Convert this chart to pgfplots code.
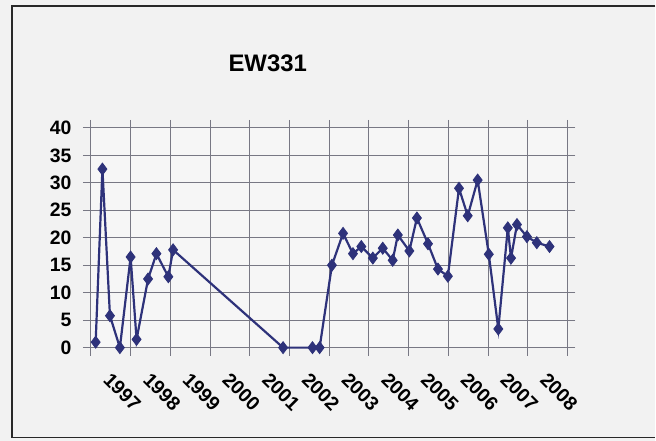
\documentclass[border=0pt]{standalone}
\usepackage{fontspec}
\setmainfont{Liberation Sans}
\usepackage{pgfplots}
\pgfplotsset{compat=1.18}
\definecolor{series}{RGB}{46,50,122}
\definecolor{gridc}{RGB}{120,120,132}
\definecolor{pagebg}{RGB}{242,242,242}
\definecolor{plotbg}{RGB}{246,246,246}
\definecolor{framec}{RGB}{40,40,40}
\begin{document}
\begin{tikzpicture}
% page background and chart frame (right edge cropped in the reference)
\fill[pagebg] (-91bp,-93bp) rectangle (565bp,348bp);
\draw[framec, line width=1.4bp] (565bp,342bp) -- (-79bp,342bp) -- (-79bp,-90bp) -- (565bp,-90bp);
\begin{axis}[
    at={(0,0)}, anchor=south west,
    scale only axis,
    width=477bp, height=220bp,
    xmin=1997, xmax=2009,
    ymin=0, ymax=40,
    xtick={1997,1998,1999,2000,2001,2002,2003,2004,2005,2006,2007,2008,2009},
    xticklabels={1997,1998,1999,2000,2001,2002,2003,2004,2005,2006,2007,2008,{}},
    ytick={0,5,...,40},
    grid=major,
    major grid style={draw=gridc, line width=0.9bp},
    axis line style={draw=gridc, line width=0.9bp},
    tick style={draw=gridc, line width=0.9bp},
    tick align=outside,
    major tick length=8bp,
    axis background/.style={fill=plotbg},
    /pgf/number format/assume math mode=true,
    ticklabel style={font=\bfseries\fontsize{19.5}{19.5}\selectfont},
    yticklabel style={xshift=-8bp},
    xticklabel style={xshift=21bp, yshift=-11bp, rotate=-45, anchor=north west},
    clip=false,
]
\addplot[series, line width=2.2bp, mark=diamond*, mark size=6bp,
         mark options={fill=series, draw=series, line width=0.8bp}]
coordinates {
(1997.12,1.0) (1997.29,32.5) (1997.48,5.8) (1997.73,0) (1998.00,16.5)
(1998.15,1.5) (1998.44,12.5) (1998.65,17.1) (1998.95,12.9) (1999.07,17.8)
(2001.84,0) (2002.58,0) (2002.76,0) (2003.07,15.0) (2003.35,20.8)
(2003.60,17.1) (2003.81,18.4) (2004.10,16.3) (2004.35,18.1) (2004.60,15.9)
(2004.73,20.5) (2005.02,17.6) (2005.21,23.6) (2005.49,18.9) (2005.74,14.3)
(2005.99,13.0) (2006.27,29.0) (2006.49,24.0) (2006.74,30.5) (2007.02,17.0)
(2007.26,3.4) (2007.50,21.8) (2007.58,16.3) (2007.73,22.4) (2007.98,20.2)
(2008.23,19.1) (2008.55,18.4)
};
\end{axis}
\node[font=\bfseries\fontsize{24}{24}\selectfont] at (177bp,285bp) {EW331};
\path[use as bounding box] (-91bp,-93bp) rectangle (565bp,348bp);
\end{tikzpicture}
\end{document}
